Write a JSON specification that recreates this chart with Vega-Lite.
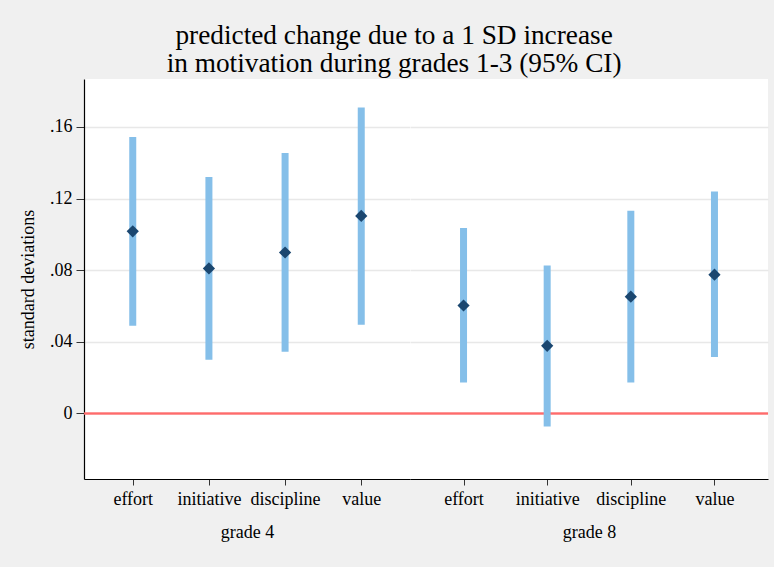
{
  "$schema": "https://vega.github.io/schema/vega-lite/v6.json",
  "background": "#f0f0f0",
  "padding": {"left": 19, "top": 21, "right": 5, "bottom": 27},
  "bounds": "flush",
  "title": {
    "text": ["predicted change due to a 1 SD increase", "in motivation during grades 1-3 (95% CI)"],
    "font": "Liberation Serif",
    "fontSize": 27.3,
    "fontWeight": "normal",
    "lineHeight": 28,
    "color": "black",
    "anchor": "middle",
    "offset": 2
  },
  "config": {
    "font": "Liberation Serif",
    "view": {"fill": "white", "stroke": null},
    "axis": {
      "labelFont": "Liberation Serif",
      "titleFont": "Liberation Serif",
      "labelFontSize": 18,
      "titleFontSize": 18,
      "titleFontWeight": "normal",
      "labelColor": "black",
      "titleColor": "black",
      "domainColor": "black",
      "tickColor": "#333333"
    }
  },
  "data": {
    "values": [
      {"grade": "grade 4", "measure": "effort", "est": 0.1017, "lo": 0.0490, "hi": 0.1544},
      {"grade": "grade 4", "measure": "initiative", "est": 0.0810, "lo": 0.0300, "hi": 0.1321},
      {"grade": "grade 4", "measure": "discipline", "est": 0.0899, "lo": 0.0345, "hi": 0.1455},
      {"grade": "grade 4", "measure": "value", "est": 0.1103, "lo": 0.0496, "hi": 0.1709},
      {"grade": "grade 8", "measure": "effort", "est": 0.0603, "lo": 0.0173, "hi": 0.1036},
      {"grade": "grade 8", "measure": "initiative", "est": 0.0378, "lo": -0.0073, "hi": 0.0827},
      {"grade": "grade 8", "measure": "discipline", "est": 0.0652, "lo": 0.0173, "hi": 0.1132},
      {"grade": "grade 8", "measure": "value", "est": 0.0775, "lo": 0.0315, "hi": 0.1239}
    ]
  },
  "spacing": 0,
  "resolve": {"scale": {"x": "independent", "y": "independent"}},
  "hconcat": [
    {
      "width": 326,
      "height": 400,
      "transform": [{"filter": "datum.grade == 'grade 4'"}],
      "layer": [
        {
          "mark": {"type": "rule", "color": "#ff6b6b", "strokeWidth": 1.5},
          "encoding": {
            "y": {
              "datum": 0,
              "type": "quantitative",
              "scale": {"domain": [-0.0366, 0.1868], "nice": false, "zero": false},
              "axis": {
                "title": "standard deviations",
                "values": [0, 0.04, 0.08, 0.12, 0.16],
                "labelExpr": "datum.value == 0 ? '0' : replace(format(datum.value, '.2f'), '0.', '.')",
                "grid": true,
                "gridColor": "#e8e8e8",
                "gridWidth": 1.5,
                "tickSize": 8,
                "labelPadding": 4,
                "titlePadding": 12,
                "domainWidth": 1.2
              }
            }
          }
        },
        {
          "mark": {"type": "rule", "color": "#85bfe9", "strokeWidth": 7, "strokeCap": "butt"},
          "encoding": {
            "x": {
              "field": "measure",
              "type": "nominal",
              "sort": ["effort", "initiative", "discipline", "value"],
              "scale": {"type": "point", "padding": 0.64},
              "axis": {"title": "grade 4", "labelAngle": 0, "tickSize": 6, "labelPadding": 5, "titlePadding": 15, "domainWidth": 1.2, "grid": false}
            },
            "y": {"field": "lo", "type": "quantitative", "title": "standard deviations"},
            "y2": {"field": "hi"}
          }
        },
        {
          "mark": {"type": "point", "shape": "diamond", "filled": true, "size": 150, "color": "#1b4770", "opacity": 1},
          "encoding": {
            "x": {"field": "measure", "type": "nominal", "sort": ["effort", "initiative", "discipline", "value"]},
            "y": {"field": "est", "type": "quantitative", "title": "standard deviations"}
          }
        }
      ]
    },
    {
      "width": 358,
      "height": 400,
      "transform": [{"filter": "datum.grade == 'grade 8'"}],
      "layer": [
        {
          "mark": {"type": "rule", "color": "#ff6b6b", "strokeWidth": 1.5},
          "encoding": {
            "y": {
              "datum": 0,
              "type": "quantitative",
              "scale": {"domain": [-0.0366, 0.1868], "nice": false, "zero": false},
              "axis": {
                "title": null,
                "values": [0, 0.04, 0.08, 0.12, 0.16],
                "labels": false,
                "ticks": false,
                "domain": false,
                "grid": true,
                "gridColor": "#e8e8e8",
                "gridWidth": 1.5,
                "minExtent": 0,
                "maxExtent": 0,
                "offset": 0
              }
            }
          }
        },
        {
          "mark": {"type": "rule", "color": "#85bfe9", "strokeWidth": 7, "strokeCap": "butt"},
          "encoding": {
            "x": {
              "field": "measure",
              "type": "nominal",
              "sort": ["effort", "initiative", "discipline", "value"],
              "scale": {"type": "point", "padding": 0.64},
              "axis": {"title": "grade 8", "labelAngle": 0, "tickSize": 6, "labelPadding": 5, "titlePadding": 15, "domainWidth": 1.2, "grid": false}
            },
            "y": {"field": "lo", "type": "quantitative", "title": null},
            "y2": {"field": "hi"}
          }
        },
        {
          "mark": {"type": "point", "shape": "diamond", "filled": true, "size": 150, "color": "#1b4770", "opacity": 1},
          "encoding": {
            "x": {"field": "measure", "type": "nominal", "sort": ["effort", "initiative", "discipline", "value"]},
            "y": {"field": "est", "type": "quantitative", "title": null}
          }
        }
      ]
    }
  ]
}
